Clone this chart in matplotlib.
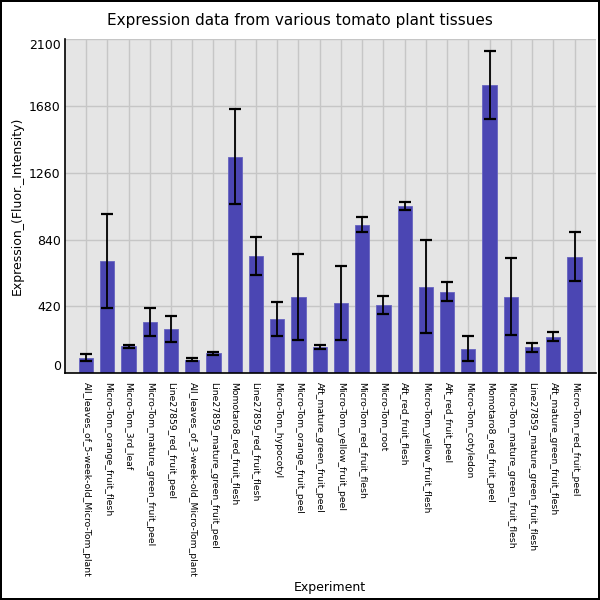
"""Bar chart of tomato tissue expression with error bars."""

import matplotlib

matplotlib.use("Agg")
import matplotlib.pyplot as plt
import numpy as np

experiments = [
    "All_leaves_of_5-week-old_Micro-Tom_plant",
    "Micro-Tom_orange_fruit_flesh",
    "Micro-Tom_3rd_leaf",
    "Micro-Tom_mature_green_fruit_peel",
    "Line27859_red_fruit_peel",
    "All_leaves_of_3-week-old_Micro-Tom_plant",
    "Line27859_mature_green_fruit_peel",
    "Momotaro8_red_fruit_flesh",
    "Line27859_red_fruit_flesh",
    "Micro-Tom_hypocotyl",
    "Micro-Tom_orange_fruit_peel",
    "Aft_mature_green_fruit_peel",
    "Micro-Tom_yellow_fruit_peel",
    "Micro-Tom_red_fruit_flesh",
    "Micro-Tom_root",
    "Aft_red_fruit_flesh",
    "Micro-Tom_yellow_fruit_flesh",
    "Aft_red_fruit_peel",
    "Micro-Tom_cotyledon",
    "Momotaro8_red_fruit_peel",
    "Micro-Tom_mature_green_fruit_flesh",
    "Line27859_mature_green_fruit_flesh",
    "Aft_mature_green_fruit_flesh",
    "Micro-Tom_red_fruit_peel",
]
expression = [
    97, 705, 168, 323, 278, 84, 124, 1362, 737, 338, 479, 166,
    444, 934, 431, 1052, 545, 512, 153, 1814, 480, 164, 228, 732,
]
errors = [
    22, 294, 12, 88, 83, 9, 11, 299, 117, 107, 272, 11,
    233, 49, 57, 26, 295, 60, 79, 213, 242, 28, 28, 155,
]
yticks = [0, 420, 840, 1260, 1680, 2100]

fig = plt.figure(figsize=(6, 6), dpi=100, edgecolor="black", linewidth=1.5)
ax = fig.add_axes([0.108, 0.378, 0.885, 0.5565])
ax.set_facecolor("#e5e5e5")
ax.set_axisbelow(True)
ax.grid(True, color="#c6c6c6", linewidth=1)

x = np.arange(len(experiments))
ax.bar(x, expression, width=0.67, color="#4b46b3", edgecolor="#6663c0", linewidth=0.6)
ax.errorbar(x, expression, yerr=errors, fmt="none", ecolor="black",
            elinewidth=1.3, capsize=4.5, capthick=1.6)

ax.set_xlim(-1, len(experiments))
ax.set_ylim(0, 2100)
ax.set_xticks(x)
ax.set_xticklabels(experiments, rotation=270, fontsize=6.7, va="top", ha="center")
ax.set_yticks(yticks)
ax.set_yticklabels([str(t) for t in yticks], fontsize=9)
ax.tick_params(axis="y", length=0, pad=3)
ax.tick_params(axis="x", length=0, pad=6)
labels = ax.get_yticklabels()
labels[0].set_va("bottom")
labels[-1].set_va("top")

for side in ("top", "right"):
    ax.spines[side].set_visible(False)
ax.spines["left"].set_linewidth(1.2)
ax.spines["bottom"].set_linewidth(1.2)

fig.text(0.5, 0.965, "Expression data from various tomato plant tissues",
         fontsize=11, ha="center", va="center")
ax.set_ylabel("Expression_(Fluor._Intensity)", fontsize=9)
ax.set_xlabel("Experiment", fontsize=9, labelpad=3)

fig.savefig("out.png", dpi=100)
plt.close(fig)
